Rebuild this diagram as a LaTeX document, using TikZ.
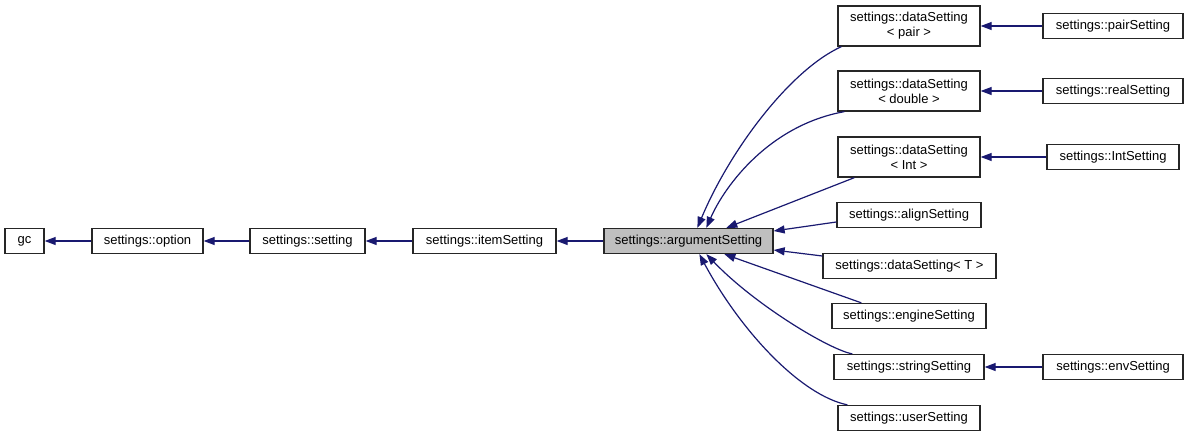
\documentclass[tikz,border=0pt]{standalone}
\usepackage{fontspec}
\setmainfont{Liberation Sans}
\usetikzlibrary{arrows.meta,calc}
\definecolor{edgeblue}{HTML}{191970}
\definecolor{boxgrey}{HTML}{BFBFBF}
\begin{document}
\begin{tikzpicture}[x=1pt,y=-1pt,
  cls/.style={draw=black!85,line width=1.3pt,fill=white,inner sep=0pt,align=center,
    font=\fontsize{13}{15}\selectfont,minimum height=25pt},
  two/.style={minimum height=40pt},
  inh/.style={draw=edgeblue,line width=1.2pt,-{Triangle[length=11pt,width=8pt]},fill=none}]
\useasboundingbox (0,0) rectangle (1188,437);
% left chain
\node[cls,minimum width=39pt] (gc) at (24.5,241) {gc};
\node[cls,minimum width=111pt] (opt) at (147.5,241) {settings::option};
\node[cls,minimum width=115pt] (set) at (307.5,241) {settings::setting};
\node[cls,minimum width=143pt] (item) at (484.5,241) {settings::itemSetting};
\node[cls,minimum width=169pt,fill=boxgrey] (arg) at (688.5,241) {settings::argumentSetting};
% middle column
\node[cls,two,minimum width=142pt] (pair) at (909,26) {settings::dataSetting\\< pair >};
\node[cls,two,minimum width=142pt] (dbl) at (909,91) {settings::dataSetting\\< double >};
\node[cls,two,minimum width=142pt] (int) at (909,157) {settings::dataSetting\\< Int >};
\node[cls,minimum width=144pt] (align) at (909,215) {settings::alignSetting};
\node[cls,minimum width=173pt] (dataT) at (909.5,266) {settings::dataSetting< T >};
\node[cls,minimum width=154pt] (engine) at (909,316) {settings::engineSetting};
\node[cls,minimum width=150pt] (string) at (909,367) {settings::stringSetting};
\node[cls,minimum width=142pt] (user) at (909,418) {settings::userSetting};
% right column
\node[cls,minimum width=140pt] (pairS) at (1113,26) {settings::pairSetting};
\node[cls,minimum width=140pt] (realS) at (1113,91) {settings::realSetting};
\node[cls,minimum width=132pt] (IntS) at (1113,157) {settings::IntSetting};
\node[cls,minimum width=140pt] (envS) at (1113,367) {settings::envSetting};
% chain edges
\draw[inh] (opt) -- (gc);
\draw[inh] (set) -- (opt);
\draw[inh] (item) -- (set);
\draw[inh] (arg) -- (item);
% right edges
\draw[inh] (pairS) -- (pair);
\draw[inh] (realS) -- (dbl);
\draw[inh] (IntS) -- (int);
\draw[inh] (envS) -- (string);
% fan into argumentSetting
\draw[inh] ($(pair.south west)+(4,0)$) .. controls (790,70) and (730,150) .. ($(arg.north west)+(94,0)$);
\draw[inh] ($(dbl.south west)+(7,0)$) .. controls (770,125) and (725,185) .. ($(arg.north west)+(103,0)$);
\draw[inh] ($(int.south west)+(17,0)$) -- ($(arg.north west)+(123,0)$);
\draw[inh] ($(align.west)+(0,7)$) -- ($(arg.east)+(0,-10)$);
\draw[inh] ($(dataT.west)+(0,-10)$) -- ($(arg.east)+(0,9)$);
\draw[inh] ($(engine.north west)+(30,0)$) -- ($(arg.south west)+(121,0)$);
\draw[inh] ($(string.north west)+(19,0)$) .. controls (830,350) and (755,305) .. ($(arg.south west)+(103,0)$);
\draw[inh] ($(user.north west)+(10,0)$) .. controls (800,395) and (740,330) .. ($(arg.south west)+(96,0)$);
\end{tikzpicture}
\end{document}
